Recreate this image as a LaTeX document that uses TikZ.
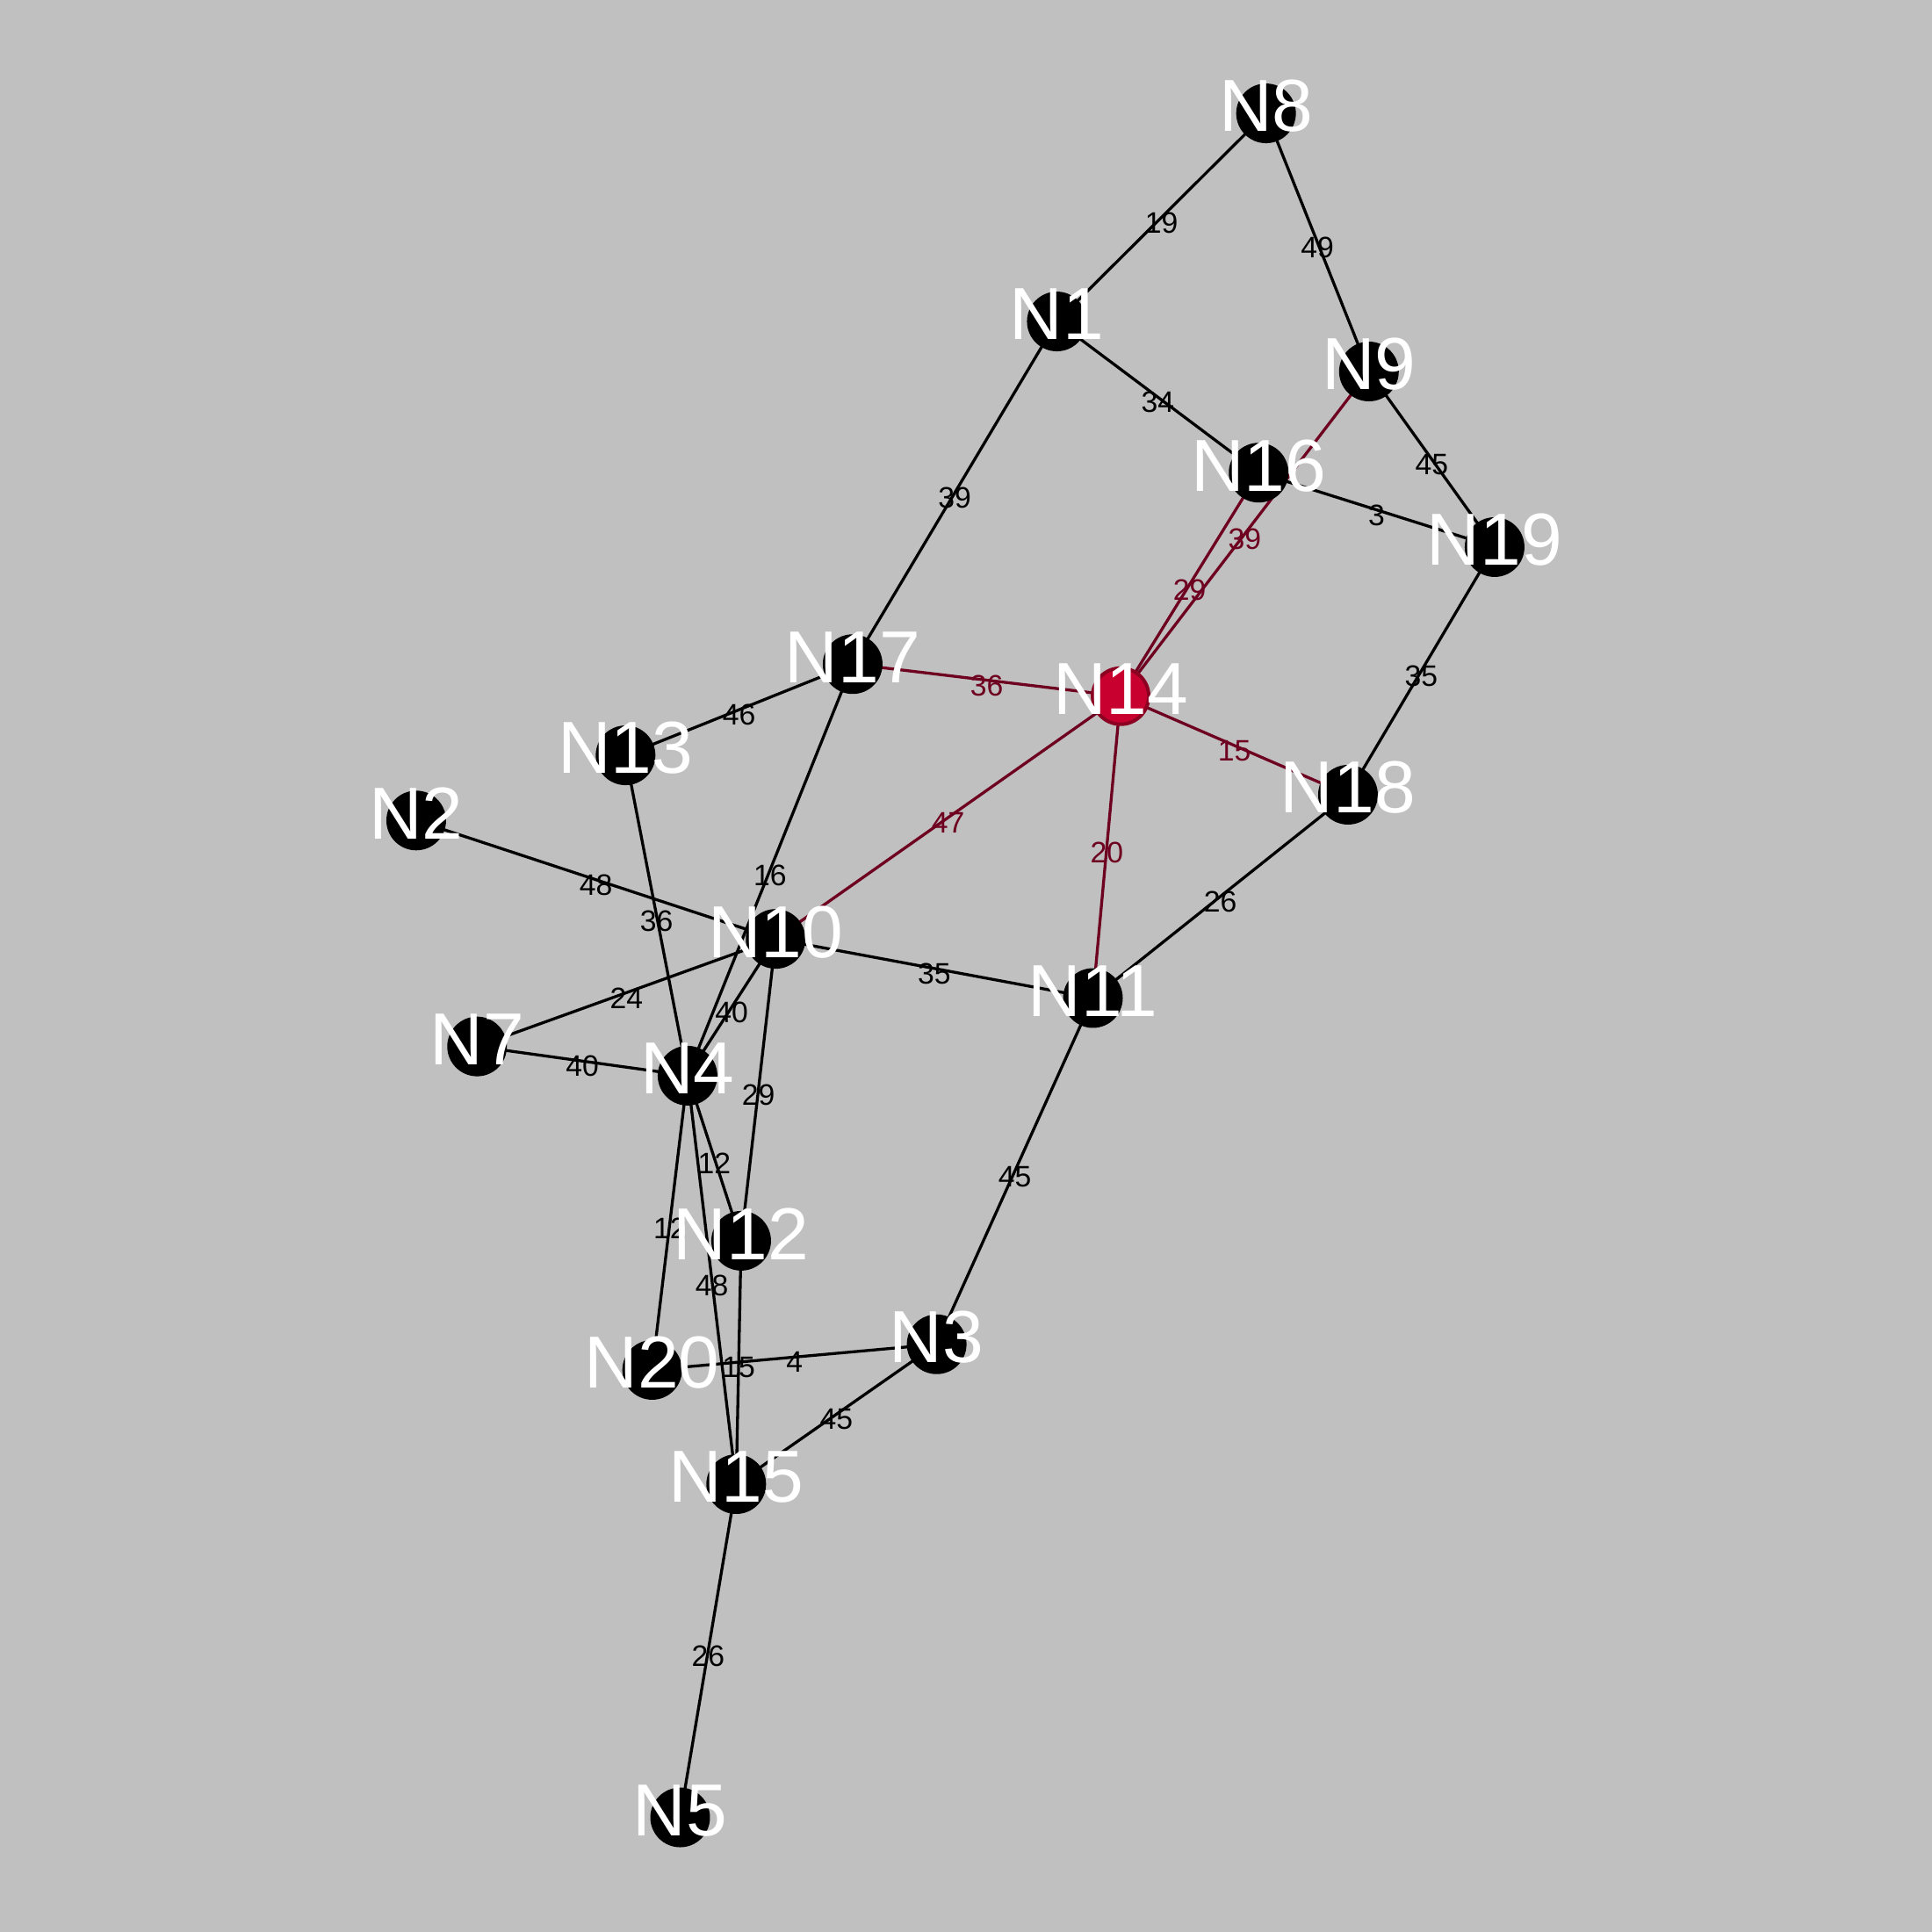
\documentclass[tikz,border=0pt]{standalone}
\usepackage{fontspec}
\setmainfont{Liberation Sans}
\definecolor{bg}{RGB}{192,192,192}
\definecolor{redfill}{RGB}{200,0,48}
\definecolor{redring}{RGB}{140,0,34}
\definecolor{rededge}{RGB}{110,0,32}
\pgfdeclarelayer{bglayer}
\pgfdeclarelayer{edges}
\pgfdeclarelayer{top}
\pgfsetlayers{bglayer,edges,main,top}
\tikzset{
  vtx/.style={circle,fill=black,inner sep=0pt,minimum size=0.68cm},
  hotvtx/.style={circle,fill=redfill,draw=redring,line width=0.04cm,inner sep=0pt,minimum size=0.64cm},
  vlabel/.style={text=white,inner sep=0pt,font=\fontsize{23.9pt}{24pt}\selectfont,yshift=0.08cm},
  edge/.style={draw=black,line width=0.033cm},
  hotedge/.style={draw=rededge,line width=0.033cm},
  elabel/.style={inner sep=0pt,font=\fontsize{9.6pt}{10pt}\selectfont,yshift=-0.06cm},
}
\begin{document}
\begin{tikzpicture}[x=0.014031cm,y=-0.014031cm]
\begin{pgfonlayer}{bglayer}
\path[fill=bg,use as bounding box] (0,0) rectangle (1568,1568);
\end{pgfonlayer}
% nodes
\node[vtx] (n1) at (857.7,260.9) {};
\node[vtx] (n2) at (337.8,665.9) {};
\node[vtx] (n3) at (760.2,1091) {};
\node[vtx] (n4) at (558,873) {};
\node[vtx] (n5) at (552,1475) {};
\node[vtx] (n7) at (387.2,849.3) {};
\node[vtx] (n8) at (1027.5,92) {};
\node[vtx] (n9) at (1111,301.5) {};
\node[vtx] (n10) at (629.5,762) {};
\node[vtx] (n11) at (887,810) {};
\node[vtx] (n12) at (601.5,1007) {};
\node[vtx] (n13) at (507.7,613) {};
\node[hotvtx] (n14) at (909.5,565) {};
\node[vtx] (n15) at (597.5,1204.5) {};
\node[vtx] (n16) at (1021.5,383.6) {};
\node[vtx] (n17) at (692,539) {};
\node[vtx] (n18) at (1094,645) {};
\node[vtx] (n19) at (1213,444) {};
\node[vtx] (n20) at (529.3,1111.8) {};
% edges
\begin{pgfonlayer}{edges}
\path[edge] (n8.center) -- (n1.center) node[elabel,midway] {19};
\path[edge] (n8.center) -- (n9.center) node[elabel,midway] {49};
\path[edge] (n1.center) -- (n16.center) node[elabel,midway] {34};
\path[edge] (n1.center) -- (n17.center) node[elabel,midway] {39};
\path[edge] (n9.center) -- (n19.center) node[elabel,midway] {45};
\path[hotedge] (n9.center) -- (n14.center) node[elabel,midway,text=rededge] {39};
\path[edge] (n16.center) -- (n19.center) node[elabel,midway] {3};
\path[hotedge] (n16.center) -- (n14.center) node[elabel,midway,text=rededge] {29};
\path[edge] (n19.center) -- (n18.center) node[elabel,midway] {35};
\path[hotedge] (n17.center) -- (n14.center) node[elabel,midway,text=rededge] {36};
\path[edge] (n17.center) -- (n13.center) node[elabel,midway] {46};
\path[edge] (n17.center) -- (n4.center) node[elabel,midway] {16};
\path[hotedge] (n14.center) -- (n18.center) node[elabel,midway,text=rededge] {15};
\path[hotedge] (n14.center) -- (n10.center) node[elabel,midway,text=rededge] {47};
\path[hotedge] (n14.center) -- (n11.center) node[elabel,midway,text=rededge] {20};
\path[edge] (n18.center) -- (n11.center) node[elabel,midway] {26};
\path[edge] (n13.center) -- (n4.center) node[elabel,midway] {36};
\path[edge] (n2.center) -- (n10.center) node[elabel,midway] {48};
\path[edge] (n10.center) -- (n11.center) node[elabel,midway] {35};
\path[edge] (n10.center) -- (n7.center) node[elabel,midway] {24};
\path[edge] (n10.center) -- (n4.center) node[elabel,midway] {40};
\path[edge] (n10.center) -- (n12.center) node[elabel,midway] {29};
\path[edge] (n7.center) -- (n4.center) node[elabel,midway] {40};
\path[edge] (n4.center) -- (n12.center) node[elabel,midway] {12};
\path[edge] (n4.center) -- (n20.center) node[elabel,midway] {12};
\path[edge] (n4.center) -- (n15.center) node[elabel,midway] {48};
\path[edge] (n12.center) -- (n15.center) node[elabel,midway] {15};
\path[edge] (n20.center) -- (n3.center) node[elabel,midway] {4};
\path[edge] (n3.center) -- (n15.center) node[elabel,midway] {45};
\path[edge] (n3.center) -- (n11.center) node[elabel,midway] {45};
\path[edge] (n15.center) -- (n5.center) node[elabel,midway] {26};
\end{pgfonlayer}
% node labels
\begin{pgfonlayer}{top}
\node[vlabel] (l1) at (n1) {N1};
\node[vlabel] (l2) at (n2) {N2};
\node[vlabel] (l3) at (n3) {N3};
\node[vlabel] (l4) at (n4) {N4};
\node[vlabel] (l5) at (n5) {N5};
\node[vlabel] (l7) at (n7) {N7};
\node[vlabel] (l8) at (n8) {N8};
\node[vlabel] (l9) at (n9) {N9};
\node[vlabel] (l10) at (n10) {N10};
\node[vlabel] (l11) at (n11) {N11};
\node[vlabel] (l12) at (n12) {N12};
\node[vlabel] (l13) at (n13) {N13};
\node[vlabel] (l14) at (n14) {N14};
\node[vlabel] (l15) at (n15) {N15};
\node[vlabel] (l16) at (n16) {N16};
\node[vlabel] (l17) at (n17) {N17};
\node[vlabel] (l18) at (n18) {N18};
\node[vlabel] (l19) at (n19) {N19};
\node[vlabel] (l20) at (n20) {N20};
\end{pgfonlayer}
\end{tikzpicture}
\end{document}
